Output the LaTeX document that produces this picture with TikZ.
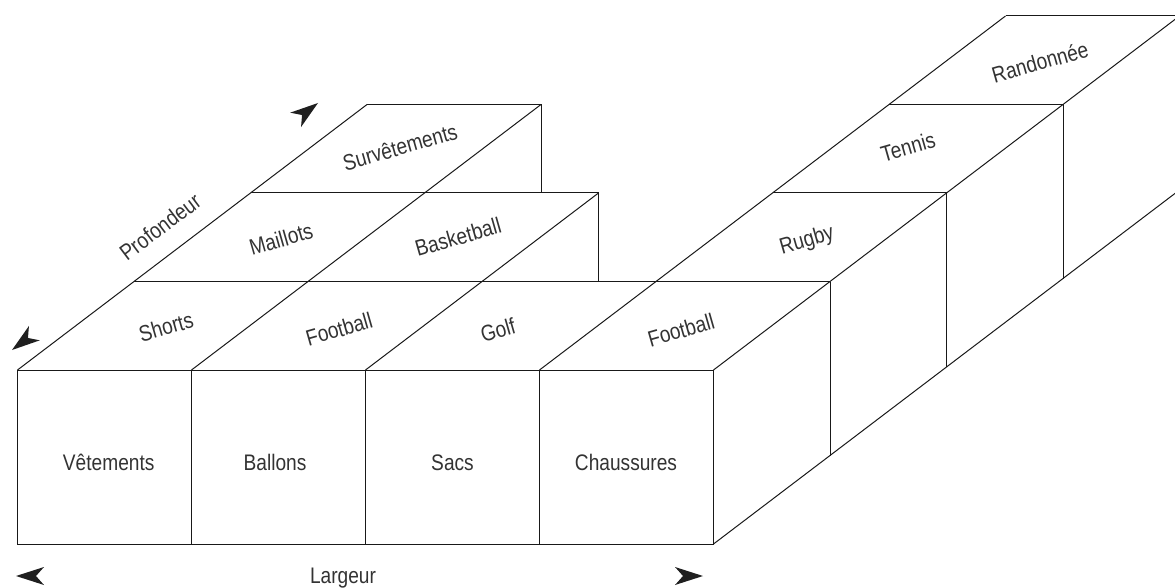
\documentclass[tikz,border=0pt]{standalone}
\usepackage{fontspec}
\usepackage{graphicx}
\setmainfont{Liberation Sans}
\newcommand\nt[1]{\scalebox{0.85}[1]{#1}}
\begin{document}
\begin{tikzpicture}[x=1pt,y=-1pt,
  edge/.style={draw=black!90,line width=1pt,line join=miter},
  lbl/.style={font=\fontsize{22.5}{27}\selectfont,text=black!80,inner sep=0pt},
  toplbl/.style={lbl,rotate=16},
  tipshape/.pic={\fill[black!88] (0,0) -- (-28,9) -- (-20,0) -- (-28,-9) -- cycle;}]
\useasboundingbox (0,0) rectangle (1175,588);
\clip (0,0) rectangle (1175,588);

% corner grid: column boundary c, depth step k (top and bottom)
\foreach \c in {0,...,4}{
  \foreach \k in {0,...,4}{
    \coordinate (p\c\k) at ({17.5+174*\c+116.5*\k},{370-88.5*\k});
    \coordinate (b\c\k) at ({17.5+174*\c+116.5*\k},{544-88.5*\k});
  }
}

% front face
\draw[edge] (p00) rectangle (b40);
\draw[edge] (p10) -- (b10) (p20) -- (b20) (p30) -- (b30);

% top faces: rows across the width
\draw[edge] (p01) -- (p41);
\draw[edge] (p02) -- (p22) (p32) -- (p42);
\draw[edge] (p03) -- (p13) (p33) -- (p43);
\draw[edge] (p34) -- (p44);

% top faces: edges along the depth
\draw[edge] (p00) -- (p03);
\draw[edge] (p10) -- (p13);
\draw[edge] (p20) -- (p22);
\draw[edge] (p30) -- (p34);
\draw[edge] (p40) -- (p44);

% visible side faces
\draw[edge] (p13) -- (p13 |- p02);
\draw[edge] (p22) -- (p22 |- p01);
\draw[edge] (p41) -- (b41) (p42) -- (b42) (p43) -- (b43) (p44) -- (b44);
\draw[edge] (b40) -- (b44);

% front labels
\node[lbl,anchor=base] (vet) at (108.7,470) {\nt{Vêtements}};
\node[lbl,anchor=base] (bal) at (275,470) {\nt{Ballons}};
\node[lbl,anchor=base] (sac) at (452.5,470) {\nt{Sacs}};
\node[lbl,anchor=base] (cha) at (626,470) {\nt{Chaussures}};

% top labels
\node[toplbl] (sho) at (166,327) {\nt{Shorts}};
\node[toplbl] (mai) at (281,239) {\nt{Maillots}};
\node[toplbl] (sur) at (400,147) {\nt{Survêtements}};
\node[toplbl] (foo1) at (339,329) {\nt{Football}};
\node[toplbl] (bas) at (458,237) {\nt{Basketball}};
\node[toplbl] (gol) at (498,330) {\nt{Golf}};
\node[toplbl] (foo2) at (681,330) {\nt{Football}};
\node[toplbl] (rug) at (807,241) {\nt{Rugby}};
\node[toplbl] (ten) at (908,147) {\nt{Tennis}};
\node[toplbl] (ran) at (1040,62) {\nt{Randonnée}};

% axes
\node[lbl,rotate=37] (prof) at (160,227) {\nt{Profondeur}};
\node[lbl,anchor=base] (larg) at (343,583.5) {\nt{Largeur}};
\pic[rotate=37] (profup) at (318,103) {tipshape};
\pic[rotate=217] (profdn) at (12,350) {tipshape};
\pic[rotate=180] (largl) at (16,576) {tipshape};
\pic (largr) at (703,576) {tipshape};
\end{tikzpicture}
\end{document}
